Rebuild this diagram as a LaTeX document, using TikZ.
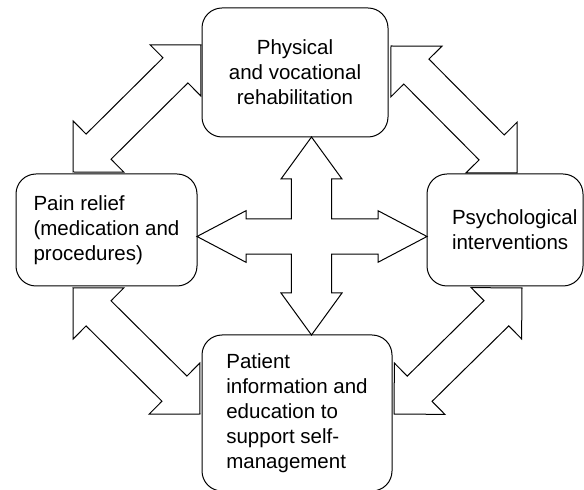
\documentclass[tikz,border=0pt]{standalone}
\usepackage{fontspec}
\setmainfont{Liberation Sans}
\usetikzlibrary{positioning,calc}

\newcommand{\twowayarrow}[2]{%
  \draw[blockarrow] (#1)
    -- ($(#1)!36pt!(#2)!36pt!90:(#2)$)
    -- ($(#1)!36pt!(#2)!17.7pt!90:(#2)$)
    -- ($(#2)!36pt!(#1)!17.7pt!-90:(#1)$)
    -- ($(#2)!36pt!(#1)!36pt!-90:(#1)$)
    -- (#2)
    -- ($(#2)!36pt!(#1)!36pt!90:(#1)$)
    -- ($(#2)!36pt!(#1)!17.7pt!90:(#1)$)
    -- ($(#1)!36pt!(#2)!17.7pt!-90:(#2)$)
    -- ($(#1)!36pt!(#2)!36pt!-90:(#2)$)
    -- cycle;}

\begin{document}
\begin{tikzpicture}[x=1pt,y=1pt,
  box/.style={draw,rounded corners=20pt,line width=1pt,outer sep=0pt,inner sep=0pt,
    font=\fontsize{20.5}{25}\selectfont},
  blockarrow/.style={draw,line width=1pt}]

\useasboundingbox (0,0) rectangle (584,490);

\node[box,align=center,minimum width=186pt,minimum height=129pt]   (phys) at (295,417.5)   {Physical\\and vocational\\rehabilitation};
\node[box,align=left,minimum width=181pt,minimum height=112pt]   (pain)[below left=37pt and 5pt of phys]   {Pain relief\\(medication and\\procedures)};
\node[box,align=left,text width=106pt,inner xsep=25pt,minimum width=156pt,minimum height=112pt]   (psych)[below right=37pt and 39pt of phys]   {Psychological\\interventions};
\node[box,align=left,minimum width=190pt,minimum height=156pt]   (patient)[below=198pt of phys,xshift=2pt]   {Patient\\information and\\education to\\support self-\\management};

\coordinate (hub) at (311.5,253.5);
\coordinate (upt) at (hub |- phys.south);
\coordinate (dnt) at (hub |- patient.north);
\coordinate (lft) at (hub -| pain.east);
\coordinate (rtt) at (hub -| psych.west);

\draw[blockarrow] (upt) -- ++(30.5,-42) -- ++(-10.3,0)
    |- ($(rtt)+(-49,17.6)$) -- ++(0,8.2) -- (rtt) -- ++(-49,-25.8) -- ++(0,8.2)
    -| ($(dnt)+(20.2,42)$) -- ++(10.3,0) -- (dnt) -- ++(-30.5,42) -- ++(10.3,0)
    |- ($(lft)+(49,-17.6)$) -- ++(0,-8.2) -- (lft) -- ++(49,25.8) -- ++(0,-8.2)
    -| ($(upt)+(-20.2,-42)$) -- ++(-10.3,0) -- cycle;

\coordinate (tl1) at ($(pain.north west)+(57,2)$);
\coordinate (tl2) at ($(phys.north west)+(-1,-37)$);
\coordinate (tr1) at ($(phys.north east)+(3,-38)$);
\coordinate (tr2) at ($(psych.north west)+(90,1)$);
\coordinate (bl1) at ($(pain.south west)+(57,-2)$);
\coordinate (bl2) at ($(patient.north west)+(-2,-79)$);
\coordinate (br1) at ($(psych.south west)+(95,-2)$);
\coordinate (br2) at ($(patient.north east)+(2,-79)$);

\twowayarrow{tl1}{tl2}
\twowayarrow{tr1}{tr2}
\twowayarrow{bl1}{bl2}
\twowayarrow{br1}{br2}

\end{tikzpicture}
\end{document}
